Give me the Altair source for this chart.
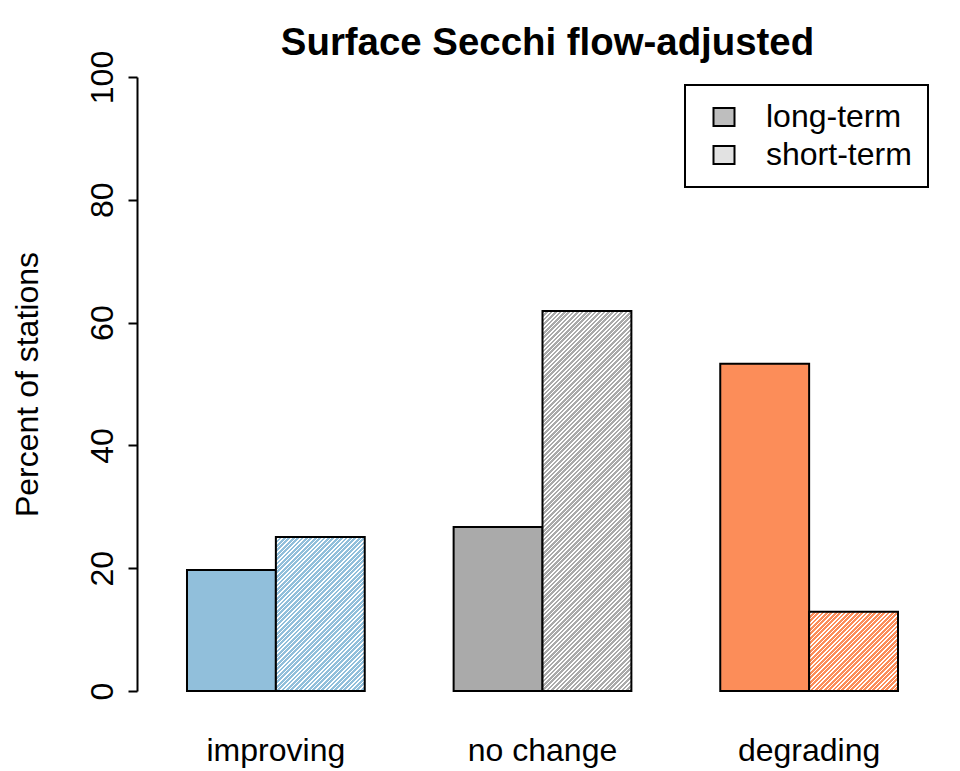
import altair as alt
import pandas as pd

# ---- data ----
categories = ["improving", "no change", "degrading"]
series = ["long-term", "short-term"]
long_term = [19.7, 26.7, 53.3]
short_term = [25.1, 61.9, 12.9]

# ---- styling ----
cat_colors = ["#91BFDB", "#AAAAAA", "#FC8D59"]
legend_fill = ["#BEBEBE", "#E2E2E2"]
FONT = "Liberation Sans"
W, H = 811, 614
P_IN, P_OUT = 1 / 3, 0.1875

rows = []
for c, lv, sv in zip(categories, long_term, short_term):
    rows.append({"category": c, "series": series[0], "value": lv})
    rows.append({"category": c, "series": series[1], "value": sv})
df = pd.DataFrame(rows)

step = W / (len(categories) - P_IN + 2 * P_OUT)
bar_w = step * (1 - P_IN) / len(series)


def hatch(color, w, h, period=4.4, duty=0.62):
    """45-degree hatch (bottom-left to top-right) as a striped linear gradient."""
    s = (w * w + h * h) / (w + h)
    L = w + h
    stops = []
    k = 0
    while k * period < L:
        a = round(k * period / L, 5)
        b = round(min((k * period + period * duty) / L, 1.0), 5)
        c = round(min((k + 1) * period / L, 1.0), 5)
        stops += [
            {"offset": a, "color": color},
            {"offset": b, "color": color},
            {"offset": b, "color": "white"},
            {"offset": c, "color": "white"},
        ]
        k += 1
    return {
        "gradient": "linear",
        "x1": 0, "y1": 0,
        "x2": round(w / s, 5), "y2": round(h / s, 5),
        "stops": stops,
    }


x_enc = alt.X(
    "category:N",
    sort=categories,
    scale=alt.Scale(domain=categories, paddingInner=P_IN, paddingOuter=P_OUT),
    axis=alt.Axis(
        title=None, domain=False, ticks=False, tickSize=0, labelAngle=0,
        labelFontSize=32, labelFont=FONT, labelColor="black",
        labelPadding=69, labelBaseline="alphabetic",
    ),
)
xo_enc = alt.XOffset("series:N", scale=alt.Scale(domain=series, paddingInner=0, paddingOuter=0))
y_enc = alt.Y(
    "value:Q",
    scale=alt.Scale(domain=[0, 100], nice=False, zero=True),
    axis=alt.Axis(
        title="Percent of stations", values=[0, 20, 40, 60, 80, 100],
        grid=False, domainColor="black", domainWidth=2,
        tickColor="black", tickWidth=2, tickSize=9,
        labelFontSize=32, labelFont=FONT, labelColor="black",
        labelAngle=270, labelAlign="center", labelBaseline="alphabetic",
        labelPadding=16,
        titleFontSize=32, titleFont=FONT, titleFontWeight="normal",
        titleColor="black", titleAngle=270, titleAlign="center",
        titleBaseline="alphabetic", titleX=-100, titleY=H / 2,
    ),
)

base = alt.Chart(df)

long_layer = base.transform_filter(
    alt.datum.series == series[0]
).mark_bar(stroke="black", strokeWidth=2).encode(
    x=x_enc, xOffset=xo_enc, y=y_enc,
    fill=alt.Fill("category:N", scale=alt.Scale(domain=categories, range=cat_colors), legend=None),
)

short_layers = []
for c, v, col in zip(categories, short_term, cat_colors):
    g = hatch(col, bar_w, v / 100 * H)
    short_layers.append(
        base.transform_filter(
            (alt.datum.series == series[1]) & (alt.datum.category == c)
        ).mark_bar(stroke="black", strokeWidth=2, fill=g).encode(
            x=x_enc, xOffset=xo_enc, y=y_enc,
        )
    )

legend_layer = base.mark_point(filled=True, opacity=0, strokeWidth=2).encode(
    color=alt.Color(
        "series:N",
        scale=alt.Scale(domain=series, range=legend_fill),
        legend=alt.Legend(
            title=None, orient="none", legendX=548, legendY=8,
            symbolType="M-1,-0.86H1V0.86H-1Z", symbolSize=441,
            symbolStrokeColor="black", symbolStrokeWidth=2, symbolOpacity=1,
            symbolOffset=7,
            labelFontSize=32, labelFont=FONT, labelColor="black",
            labelOffset=26, rowPadding=6, padding=16,
            strokeColor="black", fillColor="white",
        ),
    ),
)

chart = alt.layer(long_layer, *short_layers, legend_layer).properties(
    width=W, height=H,
    title=alt.TitleParams(
        "Surface Secchi flow-adjusted", fontSize=38.4, fontWeight="bold",
        font=FONT, color="black", anchor="middle", frame="group",
        offset=14, dy=27, dx=5,
    ),
    padding={"left": 129, "top": 69, "right": 4, "bottom": 80},
    autosize=alt.AutoSizeParams(type="none"),
).configure_view(strokeWidth=0).configure_legend(strokeWidth=2)

chart.save("out.html", embed_options={"renderer": "svg", "actions": False})
